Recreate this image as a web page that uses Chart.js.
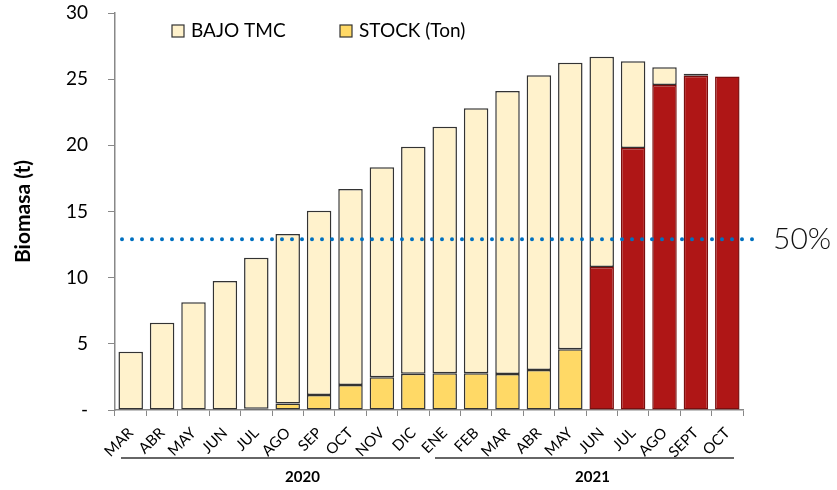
<!DOCTYPE html>
<html>
<head>
<meta charset="utf-8">
<script src="https://cdn.jsdelivr.net/npm/chart.js@4/dist/chart.umd.min.js"></script>
<style>
  html, body { margin: 0; padding: 0; background: #fff; }
  #wrap { width: 837px; height: 490px; position: relative; }
</style>
</head>
<body>
<div id="wrap"><canvas id="biomasaChart"></canvas></div>
<script>
// Months (MAR 2020 .. OCT 2021)
const months = ["MAR", "ABR", "MAY", "JUN", "JUL", "AGO", "SEP", "OCT", "NOV", "DIC",
                "ENE", "FEB", "MAR", "ABR", "MAY", "JUN", "JUL", "AGO", "SEPT", "OCT"];

// Stock (bottom segment), tonnes
const stock = [0, 0, 0, 0, 0.1, 0.5, 1.13, 1.89, 2.47, 2.74,
               2.77, 2.77, 2.72, 3.02, 4.6, 10.8, 19.8, 24.56, 25.25, 25.2];

// Biomass below TMC (top segment), tonnes
const bajoTmc = [4.4, 6.6, 8.15, 9.75, 11.4, 12.8, 13.92, 14.81, 15.88, 17.16,
                 18.63, 20.03, 21.38, 22.28, 21.65, 15.9, 6.55, 1.34, 0.15, null];

// Year groups under the month labels (first / last month index)
const yearGroups = [
    { label: "2020", from: 0, to: 9 },
    { label: "2021", from: 10, to: 19 }
];

// 50% reference level and harvest start (bars from here on drawn red)
const halfLevel = 12.9;
const harvestStart = 15;

const CREAM = '#FFF2CC';
const YELLOW = '#FFD966';
const RED = '#AF1616';
const RED_EDGE = '#7A0E0E';
const EDGE = '#333333';
const FONT = 'Lato, "Open Sans", sans-serif';

// Draws the dotted 50% line, legend and year brackets
const extras = {
    id: 'extras',
    afterDatasetsDraw(chart) {
        const { ctx, chartArea, scales } = chart;
        const y = scales.y;

        // dotted 50% line
        const yLine = y.getPixelForValue(halfLevel);
        ctx.save();
        ctx.strokeStyle = '#0070C0';
        ctx.lineWidth = 4;
        ctx.lineCap = 'round';
        ctx.setLineDash([0, 10]);
        ctx.beginPath();
        ctx.moveTo(chartArea.left + 7, yLine);
        ctx.lineTo(chartArea.right + 15, yLine);
        ctx.stroke();
        ctx.restore();

        ctx.save();
        ctx.fillStyle = '#111';
        ctx.font = '300 30px ' + FONT;
        ctx.textAlign = 'left';
        ctx.textBaseline = 'middle';
        ctx.fillText('50%', chartArea.right + 30, yLine);
        ctx.restore();
    },
    afterDraw(chart) {
        const { ctx, scales } = chart;
        const x = scales.x;

        // legend (BAJO TMC first, then STOCK)
        const items = [
            { text: chart.data.datasets[1].label, fill: CREAM, x: 172 },
            { text: chart.data.datasets[0].label, fill: YELLOW, x: 340 }
        ];
        ctx.save();
        ctx.font = '19px ' + FONT;
        ctx.textBaseline = 'middle';
        items.forEach(it => {
            ctx.fillStyle = it.fill;
            ctx.fillRect(it.x, 25, 12, 12);
            ctx.strokeStyle = EDGE;
            ctx.lineWidth = 1.2;
            ctx.strokeRect(it.x, 25, 12, 12);
            ctx.fillStyle = '#000';
            ctx.fillText(it.text, it.x + 19, 31);
        });
        ctx.restore();

        // year brackets
        const step = x.getPixelForValue(1) - x.getPixelForValue(0);
        ctx.save();
        ctx.strokeStyle = EDGE;
        ctx.lineWidth = 1.5;
        ctx.fillStyle = '#000';
        ctx.font = 'bold 15px ' + FONT;
        ctx.textAlign = 'center';
        ctx.textBaseline = 'middle';
        yearGroups.forEach(g => {
            const x0 = x.getPixelForValue(g.from) - step / 2 + 6;
            const x1 = x.getPixelForValue(g.to) + step / 2 - 9;
            ctx.beginPath();
            ctx.moveTo(x0, 458);
            ctx.lineTo(x1, 458);
            ctx.stroke();
            ctx.fillText(g.label, (x0 + x1) / 2 + (g.from === 0 ? 32 : 8), 477);
        });
        ctx.restore();
    }
};

const initChart = () => {
    const ctx = document.getElementById('biomasaChart').getContext('2d');
    new Chart(ctx, {
        type: 'bar',
        data: {
            labels: months,
            datasets: [
                {
                    label: 'STOCK (Ton)',
                    data: stock,
                    backgroundColor: c => c.dataIndex >= harvestStart ? RED : YELLOW,
                    borderColor: c => c.dataIndex >= harvestStart ? RED_EDGE : EDGE,
                    borderWidth: 1.5,
                    borderSkipped: false,
                    barPercentage: 0.78,
                    categoryPercentage: 1
                },
                {
                    label: 'BAJO TMC',
                    data: bajoTmc,
                    backgroundColor: CREAM,
                    borderColor: EDGE,
                    borderWidth: 1.5,
                    borderSkipped: false,
                    barPercentage: 0.78,
                    categoryPercentage: 1
                }
            ]
        },
        options: {
            responsive: true,
            maintainAspectRatio: false,
            animation: false,
            layout: { padding: { top: 13, right: 94, left: 0, bottom: 0 } },
            plugins: {
                legend: { display: false },
                tooltip: { enabled: false }
            },
            scales: {
                x: {
                    stacked: true,
                    grid: { drawOnChartArea: false, offset: true, tickLength: 6, color: '#888' },
                    border: { color: '#888', width: 1.5 },
                    ticks: {
                        autoSkip: false,
                        maxRotation: 45,
                        minRotation: 45,
                        padding: 8,
                        color: '#000',
                        font: { family: FONT, size: 15 }
                    },
                    afterFit(s) { s.height = 80; s.paddingTop = 0; }
                },
                y: {
                    stacked: true,
                    min: 0,
                    max: 30,
                    grid: { drawOnChartArea: false, tickLength: 7, color: '#888' },
                    border: { color: '#888', width: 1.5 },
                    ticks: {
                        stepSize: 5,
                        padding: 20,
                        color: '#000',
                        font: { family: FONT, size: 19 },
                        callback: v => v === 0 ? '-' : v
                    },
                    title: {
                        display: true,
                        text: 'Biomasa (t)',
                        color: '#000',
                        font: { family: FONT, size: 21, weight: 'bold' },
                        padding: { top: 11, bottom: 0 }
                    },
                    afterFit(s) { s.width = 115; s.paddingTop = 0; s.paddingBottom = 0; }
                }
            }
        },
        plugins: [extras]
    });
};

document.addEventListener('DOMContentLoaded', initChart);
</script>
</body>
</html>
